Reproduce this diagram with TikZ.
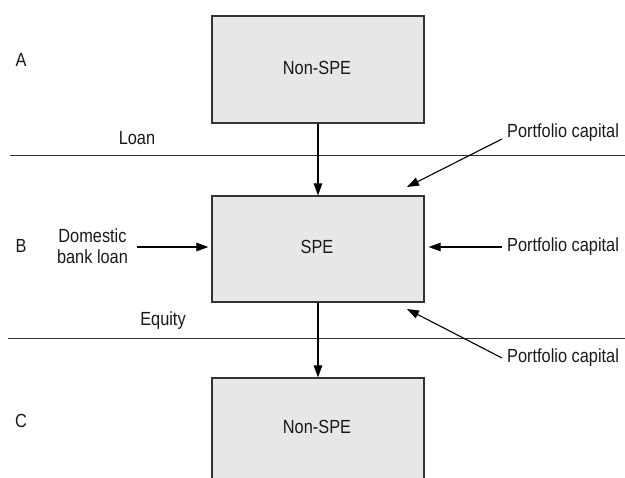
\documentclass[tikz,border=0pt]{standalone}
\usepackage{fontspec}
\setmainfont{Liberation Sans}[FakeStretch=0.86]
\usetikzlibrary{arrows.meta}
\definecolor{boxfill}{HTML}{E6E7E8}
\definecolor{boxline}{HTML}{333333}
\tikzset{
  ent/.style={draw=boxline, line width=1.2pt, fill=boxfill, minimum width=212pt, inner sep=0pt},
  txt/.style={inner sep=0pt, font=\fontsize{19}{21}\selectfont, text=black!90},
  flow/.style={line width=1.1pt, -{Triangle[length=12pt,width=8.5pt]}},
  sep/.style={line width=0.8pt, draw=black!80},
}
\begin{document}
\begin{tikzpicture}[x=1pt,y=-1pt]
\useasboundingbox (0,0) rectangle (625,478);
% boxes
\node[ent, minimum height=107pt] (top) at (318,69.5) {};
\node[txt] (toptxt) at (317,68) {Non-SPE};
\node[ent, minimum height=106pt] (spe) at (318,249) {};
\node[txt] (spetxt) at (317,247) {SPE};
\node[ent, minimum height=115pt] (bot) at (318,435.5) {};
\node[txt] (bottxt) at (317,427) {Non-SPE};
% row letters
\node[txt] (la) at (21,60) {A};
\node[txt] (lb) at (21,246) {B};
\node[txt] (lc) at (21,421) {C};
% separator lines
\coordinate (l1a) at (10,155);
\coordinate (l1b) at (625,155);
\draw[sep] (l1a) -- (l1b);
\coordinate (l2a) at (8,338);
\coordinate (l2b) at (625,338);
\draw[sep] (l2a) -- (l2b);
\node[txt] (loan) at (137,138) {Loan};
\node[txt] (equity) at (163,321) {Equity};
% vertical flows
\draw[flow] (top.south) -- (spe.north);
\draw[flow] (spe.south) -- (bot.north);
% domestic bank loan
\node[txt, align=center] (dom) at (92.5,246) {Domestic\\bank loan};
\coordinate (domstart) at (137,247);
\draw[flow] (domstart) -- ([xshift=-3pt]domstart -| spe.west);
% portfolio capital
\node[txt, anchor=west] (pc1) at (507,133) {Portfolio capital};
\node[txt, anchor=west] (pc2) at (507,247) {Portfolio capital};
\node[txt, anchor=west] (pc3) at (507,358) {Portfolio capital};
\coordinate (pc1s) at (502,139);
\coordinate (pc1e) at (407,187);
\draw[flow] (pc1s) -- (pc1e);
\coordinate (pc2s) at (502,247);
\draw[flow] (pc2s) -- ([xshift=4pt]pc2s -| spe.east);
\coordinate (pc3s) at (502,358);
\coordinate (pc3e) at (407,309);
\draw[flow] (pc3s) -- (pc3e);
\end{tikzpicture}
\end{document}
